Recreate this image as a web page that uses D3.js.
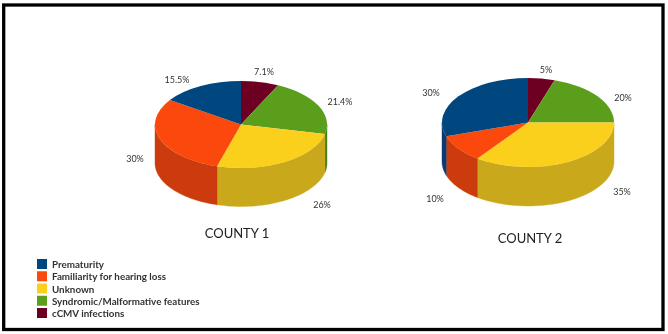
<!DOCTYPE html>
<html>
<head>
<meta charset="utf-8">
<script src="https://cdn.jsdelivr.net/npm/d3@7"></script>
<style>
  html, body { margin: 0; padding: 0; background: #fff; }
  svg { display: block; font-family: Lato, "Open Sans", sans-serif; }
</style>
</head>
<body>
<div id="chart"></div>
<script>
// Categories in the order they are drawn, clockwise from 12 o'clock
const categories = ['cCMV infections', 'Syndromic/Malformative features', 'Unknown', 'Familiarity for hearing loss', 'Prematurity'];
const legendOrder = ['Prematurity', 'Familiarity for hearing loss', 'Unknown', 'Syndromic/Malformative features', 'cCMV infections'];

const county1Values = [7.1, 21.4, 26, 30, 15.5];
const county2Values = [5, 20, 35, 10, 30];
const county1Labels = ['7.1%', '21.4%', '26%', '30%', '15.5%'];
const county2Labels = ['5%', '20%', '35%', '10%', '30%'];

const topColors = ['#6d0322', '#5a9e1f', '#fbd01f', '#fb4a0c', '#03467f'];
const sideColors = ['#55021a', '#477f18', '#c9a81c', '#cc3b08', '#0a3a70'];

const width = 668, height = 334;
const rx = 86;

const svg = d3.select('#chart').append('svg')
    .attr('width', width)
    .attr('height', height);

// soft look of the scanned picture
const blur = svg.append('defs').append('filter').attr('id', 'soft');
blur.append('feGaussianBlur').attr('stdDeviation', 0.45);

svg.append('rect')
    .attr('x', 3.7).attr('y', 5)
    .attr('width', 659.3).attr('height', 324.5)
    .attr('fill', '#fff')
    .attr('stroke', '#000')
    .attr('stroke-width', 3.3);

const color = d3.scaleOrdinal().domain(categories).range(topColors);
const sideColor = d3.scaleOrdinal().domain(categories).range(sideColors);

const pie = d3.pie().sort(null).value(d => d.value);
const arc = d3.arc().innerRadius(0).outerRadius(1);

// Function to get the front wall of a slice, only the part that faces the viewer
function sidePath(d, ry, depth) {
    const a0 = Math.max(d.startAngle, Math.PI / 2);
    const a1 = Math.min(d.endAngle, Math.PI * 1.5);
    if (a1 <= a0) return null;
    const steps = d3.range(0, 41).map(i => a0 + (a1 - a0) * i / 40);
    const pts = steps.map(a => [rx * Math.sin(a), -ry * Math.cos(a)]);
    const lower = pts.slice().reverse().map(p => [p[0], p[1] + depth]);
    return d3.line()(pts.concat(lower)) + 'Z';
}

// Function to draw one county as a tilted pie with its labels and title
function renderPie(values, labels, title, cx, cy, ry, depth, labelPos, titlePos) {
    const rows = categories.map((name, i) => ({ name, value: values[i], label: labels[i] }));
    const slices = pie(rows);
    const g = svg.append('g').attr('filter', 'url(#soft)');
    const body = g.append('g').attr('transform', `translate(${cx},${cy})`);

    body.selectAll('path.side')
        .data(slices.filter(d => sidePath(d, ry, depth)))
        .enter()
        .append('path')
        .attr('class', 'side')
        .attr('d', d => sidePath(d, ry, depth))
        .attr('fill', d => sideColor(d.data.name))
        .attr('stroke', d => sideColor(d.data.name))
        .attr('stroke-width', 0.4);

    body.selectAll('path.top')
        .data(slices)
        .enter()
        .append('path')
        .attr('class', 'top')
        .attr('transform', `scale(${rx},${ry})`)
        .attr('d', arc)
        .attr('fill', d => color(d.data.name));

    g.selectAll('text.pct')
        .data(slices)
        .enter()
        .append('text')
        .attr('class', 'pct')
        .attr('x', (d, i) => labelPos[i][0])
        .attr('y', (d, i) => labelPos[i][1])
        .attr('text-anchor', 'middle')
        .attr('dominant-baseline', 'central')
        .attr('font-size', 9)
        .attr('fill', '#333')
        .text(d => d.data.label);

    g.append('text')
        .attr('x', titlePos[0])
        .attr('y', titlePos[1])
        .attr('text-anchor', 'middle')
        .attr('dominant-baseline', 'central')
        .attr('font-size', 13)
        .attr('fill', '#222')
        .text(title);
}

renderPie(county1Values, county1Labels, 'COUNTY 1', 241, 124.5, 43.5, 38.5,
    [[264, 71], [340, 101], [322, 204], [135, 158], [177, 79]], [237, 233]);
renderPie(county2Values, county2Labels, 'COUNTY 2', 528, 122.5, 44.5, 39,
    [[546, 69], [623, 97], [622, 191], [435, 198], [431, 92]], [530, 238]);

// Legend
const legendY = d3.scalePoint().domain(legendOrder).range([264, 313]);
const legend = svg.append('g').attr('filter', 'url(#soft)');
const rowsG = legend.selectAll('g')
    .data(legendOrder)
    .enter()
    .append('g')
    .attr('transform', d => `translate(37,${legendY(d)})`);
rowsG.append('rect')
    .attr('y', -5)
    .attr('width', 10)
    .attr('height', 10)
    .attr('fill', d => color(d));
rowsG.append('text')
    .attr('x', 15)
    .attr('dominant-baseline', 'central')
    .attr('font-size', 9.8)
    .attr('font-weight', 700)
    .attr('fill', '#333')
    .text(d => d);
</script>
</body>
</html>
